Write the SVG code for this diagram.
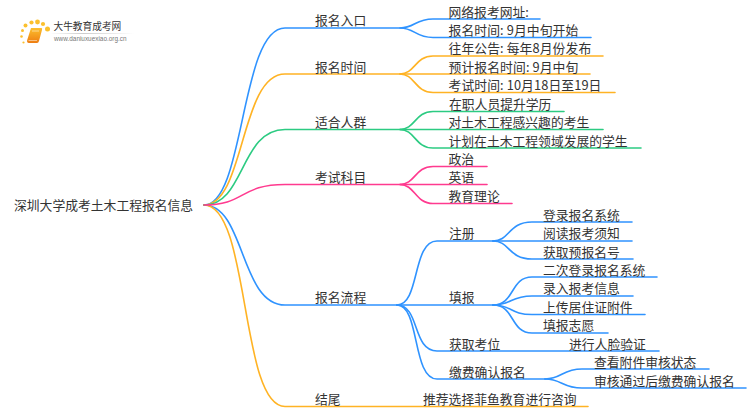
<svg xmlns="http://www.w3.org/2000/svg" width="750" height="410" viewBox="0 0 750 410">
<style>
text{font-family:"Noto Sans CJK SC","Noto Sans",sans-serif;font-size:12.8px;fill:#333}
.d{letter-spacing:.1px}
.c path{fill:none;stroke-width:1.6;stroke-linecap:round}
.b path{stroke:#2f93ff}.o path{stroke:#ffb324}.g path{stroke:#2ccb82}.p path{stroke:#ff3a8f}
</style>
<defs>
<linearGradient id="bk" x1="0" y1="0" x2="0" y2="1"><stop offset="0" stop-color="#fcc02e"/><stop offset="1" stop-color="#ee7d12"/></linearGradient>
<linearGradient id="ln"><stop offset="0" stop-color="#ccc" stop-opacity="0"/><stop offset=".4" stop-color="#ccc"/><stop offset="1" stop-color="#ccc" stop-opacity="0"/></linearGradient>
</defs>
<rect width="750" height="410" fill="#fff"/>
<g id="logo">
<g fill="#fbc02d"><circle cx="37.500" cy="22" r="2.400"/><circle cx="25.500" cy="25.500" r="2"/><circle cx="31.500" cy="22.500" r="2.100"/><circle cx="43" cy="24" r="2.100"/><circle cx="47.500" cy="29" r="2.500"/><circle cx="22.500" cy="30.500" r="1.500"/><circle cx="21.500" cy="36.500" r="1.300"/><circle cx="23.500" cy="42.500" r="1.100"/></g>
<path d="M31,28H41.500Q42.500,28 42,30L39,41Q38.500,43 37,43H29Q26.500,43 27.200,40Z" fill="url(#bk)"/>
<path d="M32,31H39M28.500,40.500H37" stroke="#fff" stroke-width=".7" opacity=".7" fill="none"/>
<rect x="50" y="33" width="84" height="1" fill="url(#ln)"/>
<text x="53.500" y="30" style="font-size:9.700px">大牛教育成考网</text>
<text x="54" y="41" style="font-size:6.400px;fill:#777;font-family:'Liberation Sans',sans-serif">www.daniuxuexiao.org.cn</text>
</g>
<g id="connectors" class="c">
<g class="b">
<path d="M204,205C245,205 240,28 285,28H400C415,28 415,19 433,19H540"/>
<path d="M400,28C415,28 415,37.500 433,37.500H591"/>
<path d="M204,205C245,205 240,305 285,305H397"/>
<path d="M397,305C420,305 412,241 437,241H493"/>
<path d="M397,305H493"/>
<path d="M397,305C420,305 412,351 437,351H659"/>
<path d="M397,305C420,305 412,379 437,379H545"/>
<path d="M493,241C510,241 508,222 532,222H632"/>
<path d="M493,241H632"/>
<path d="M493,241C510,241 508,259 532,259H633"/>
<path d="M493,305C515,305 510,277 532,277H657"/>
<path d="M493,305C512,305 510,296 532,296H633"/>
<path d="M493,305C512,305 510,314.500 532,314.500H645"/>
<path d="M493,305C515,305 510,333 532,333H608"/>
<path d="M545,379C562,379 562,369 582,369H709"/>
<path d="M545,379C562,379 562,388 582,388H746"/>
</g>
<g class="o">
<path d="M204,205C245,205 240,74 285,74H400C415,74 415,56 433,56H603"/>
<path d="M400,74H590"/>
<path d="M400,74C415,74 415,92.500 433,92.500H615"/>
<path d="M204,205C250,205 240,406.500 285,406.500H588"/>
</g>
<g class="g">
<path d="M204,205C245,205 240,129.500 285,129.500H400C415,129.500 415,111.500 433,111.500H564"/>
<path d="M400,129.500H603"/>
<path d="M400,129.500C415,129.500 415,148 433,148H641"/>
</g>
<g class="p">
<path d="M204,205C245,205 240,184.500 285,184.500H400C415,184.500 415,166.500 433,166.500H487"/>
<path d="M400,184.500H487"/>
<path d="M400,184.500C415,184.500 415,203.500 433,203.500H512"/>
</g>
</g>
<g id="root"><text x="14" y="209.500">深圳大学成考土木工程报名信息</text></g>
<g id="n1"><text x="315" y="25">报名入口</text></g>
<g id="n1-1"><text x="448.500" y="16.500">网络报考网址:</text></g>
<g id="n1-2"><text class="d" x="448.500" y="35">报名时间: 9月中旬开始</text></g>
<g id="n2"><text x="315" y="71.500">报名时间</text></g>
<g id="n2-1"><text class="d" x="448.500" y="53">往年公告: 每年8月份发布</text></g>
<g id="n2-2"><text class="d" x="448.500" y="71.500">预计报名时间: 9月中旬</text></g>
<g id="n2-3"><text class="d" x="448.500" y="90">考试时间: 10月18日至19日</text></g>
<g id="n3"><text x="315" y="127">适合人群</text></g>
<g id="n3-1"><text x="449" y="108.500">在职人员提升学历</text></g>
<g id="n3-2"><text x="448.500" y="127">对土木工程感兴趣的考生</text></g>
<g id="n3-3"><text x="448.500" y="145.500">计划在土木工程领域发展的学生</text></g>
<g id="n4"><text x="315" y="182">考试科目</text></g>
<g id="n4-1"><text x="448.500" y="164">政治</text></g>
<g id="n4-2"><text x="448.500" y="182">英语</text></g>
<g id="n4-3"><text x="448.500" y="201">教育理论</text></g>
<g id="n5"><text x="315" y="302">报名流程</text></g>
<g id="n5-1"><text x="449" y="238">注册</text></g>
<g id="n5-1-1"><text x="543" y="219.500">登录报名系统</text></g>
<g id="n5-1-2"><text x="543" y="238">阅读报考须知</text></g>
<g id="n5-1-3"><text x="543" y="256.500">获取预报名号</text></g>
<g id="n5-2"><text x="449" y="302">填报</text></g>
<g id="n5-2-1"><text x="543" y="274.500">二次登录报名系统</text></g>
<g id="n5-2-2"><text x="543" y="293">录入报考信息</text></g>
<g id="n5-2-3"><text x="543" y="311.500">上传居住证附件</text></g>
<g id="n5-2-4"><text x="543" y="330">填报志愿</text></g>
<g id="n5-3"><text x="449" y="348.500">获取考位</text></g>
<g id="n5-3-1"><text x="569" y="348.500">进行人脸验证</text></g>
<g id="n5-4"><text x="449" y="376.500">缴费确认报名</text></g>
<g id="n5-4-1"><text x="594" y="367">查看附件审核状态</text></g>
<g id="n5-4-2"><text x="594" y="385.500">审核通过后缴费确认报名</text></g>
<g id="n6"><text x="315" y="404">结尾</text></g>
<g id="n6-1"><text x="423" y="404">推荐选择菲鱼教育进行咨询</text></g>
</svg>
